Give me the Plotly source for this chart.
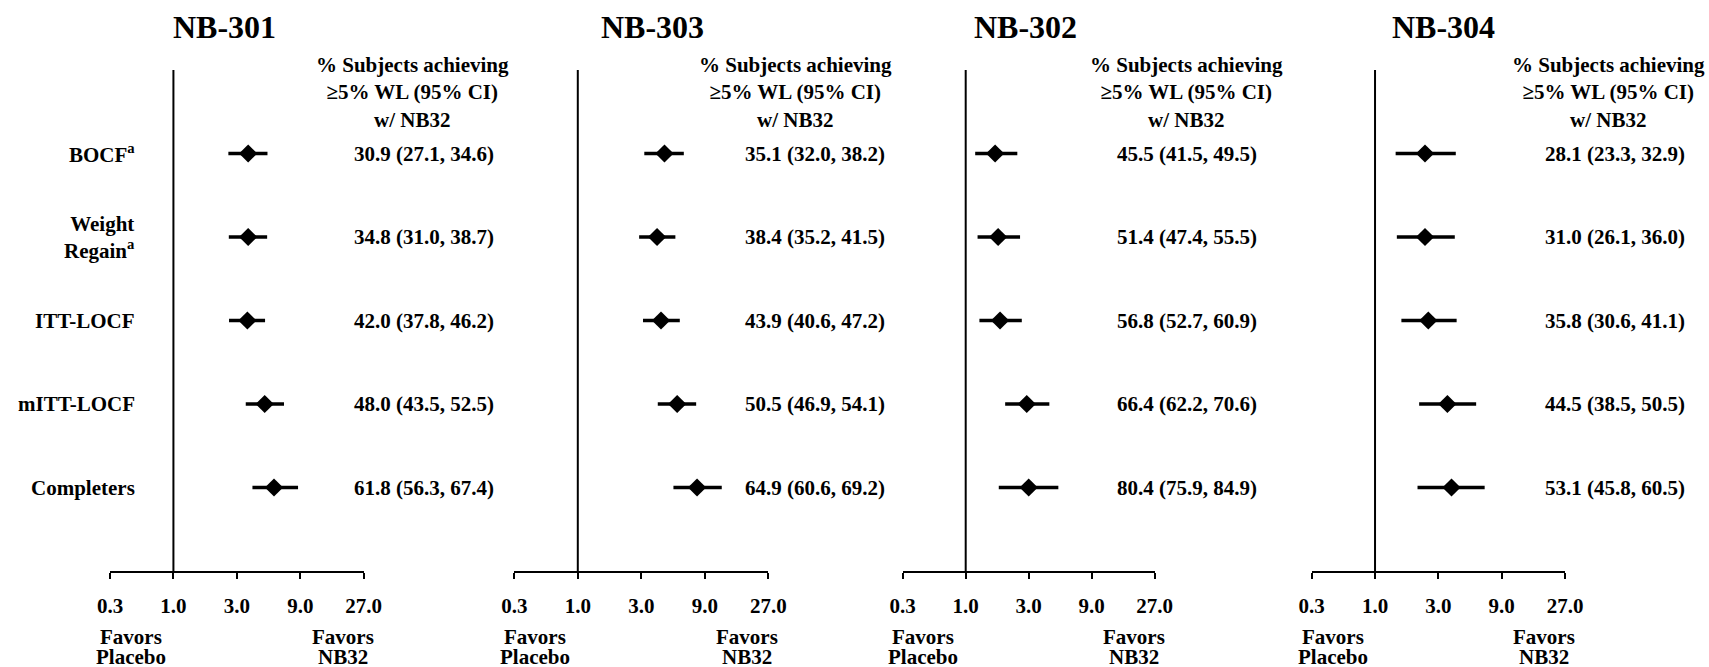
import numpy as np
import plotly.graph_objects as go

W, H = 1709, 667

# ---- data -------------------------------------------------------------
studies = ["NB-301", "NB-303", "NB-302", "NB-304"]
analyses = ["BOCF<sup>a</sup>", "Weight<br>Regain<sup>a</sup>", "ITT-LOCF",
            "mITT-LOCF", "Completers"]

# odds ratio (NB32 vs placebo) with 95% CI, one list per study
or_301 = [3.65, 3.65, 3.60, 4.86, 5.71]
lo_301 = [2.59, 2.61, 2.62, 3.50, 3.93]
hi_301 = [5.10, 5.07, 4.89, 6.79, 8.66]

or_303 = [4.48, 3.94, 4.22, 5.58, 7.87]
lo_303 = [3.16, 2.89, 3.09, 3.99, 5.23]
hi_303 = [6.26, 5.41, 5.84, 7.75, 12.07]

or_302 = [1.67, 1.76, 1.82, 2.90, 3.00]
lo_302 = [1.18, 1.23, 1.27, 1.99, 1.78]
hi_302 = [2.46, 2.58, 2.66, 4.30, 5.03]

or_304 = [2.38, 2.38, 2.52, 3.51, 3.77]
lo_304 = [1.43, 1.46, 1.58, 2.15, 2.09]
hi_304 = [4.06, 3.99, 4.12, 5.78, 6.70]

# % subjects achieving >=5% weight loss with NB32 (95% CI)
pct_301 = [30.9, 34.8, 42.0, 48.0, 61.8]
pctlo_301 = [27.1, 31.0, 37.8, 43.5, 56.3]
pcthi_301 = [34.6, 38.7, 46.2, 52.5, 67.4]

pct_303 = [35.1, 38.4, 43.9, 50.5, 64.9]
pctlo_303 = [32.0, 35.2, 40.6, 46.9, 60.6]
pcthi_303 = [38.2, 41.5, 47.2, 54.1, 69.2]

pct_302 = [45.5, 51.4, 56.8, 66.4, 80.4]
pctlo_302 = [41.5, 47.4, 52.7, 62.2, 75.9]
pcthi_302 = [49.5, 55.5, 60.9, 70.6, 84.9]

pct_304 = [28.1, 31.0, 35.8, 44.5, 53.1]
pctlo_304 = [23.3, 26.1, 30.6, 38.5, 45.8]
pcthi_304 = [32.9, 36.0, 41.1, 50.5, 60.5]

tick_vals = [1 / 3, 1, 3, 9, 27]
tick_text = ["0.3", "1.0", "3.0", "9.0", "27.0"]

# ---- layout geometry (pixels) -----------------------------------------
axis_px = [(110, 363.7), (514.3, 768.3), (902.7, 1154.7), (1311.7, 1565)]
title_cx = [225, 652, 1025, 1443]
header_cx = [412, 795, 1186, 1608]
value_x0 = [352, 742.7, 1115, 1542.7]
plot_top, plot_bottom = 70, 571

FONT = "Liberation Serif, Times New Roman, serif"
fs = 21

ors = [or_301, or_303, or_302, or_304]
los = [lo_301, lo_303, lo_302, lo_304]
his = [hi_301, hi_303, hi_302, hi_304]
pcts = [pct_301, pct_303, pct_302, pct_304]
pctlos = [pctlo_301, pctlo_303, pctlo_302, pctlo_304]
pcthis = [pcthi_301, pcthi_303, pcthi_302, pcthi_304]

rows = list(range(1, len(analyses) + 1))

fig = go.Figure()
annotations = []
shapes = []


def bold_font(size=fs):
    return dict(family=FONT, size=size, color="black", weight="bold")


for i, study in enumerate(studies):
    xa = "x" if i == 0 else f"x{i + 1}"
    o = np.array(ors[i])
    lo = np.array(los[i])
    hi = np.array(his[i])
    fig.add_trace(go.Scatter(
        x=o, y=rows, xaxis=xa, yaxis="y", mode="markers",
        marker=dict(symbol="diamond", size=14, color="black"),
        error_x=dict(type="data", symmetric=False, array=hi - o,
                     arrayminus=o - lo, color="black", thickness=3.5, width=0),
        showlegend=False, cliponaxis=False, hoverinfo="skip",
    ))

    # reference line at OR = 1
    shapes.append(dict(type="line", xref=xa, yref="y", x0=1, x1=1, y0=0, y1=6,
                       line=dict(color="black", width=2)))

    # study title
    annotations.append(dict(text=study, xref="paper", yref="paper",
                            x=title_cx[i] / W, y=1 - 27 / H, xanchor="center",
                            yanchor="middle", showarrow=False,
                            font=bold_font(32)))
    # column header
    annotations.append(dict(text="% Subjects achieving<br>≥5% WL (95% CI)<br>w/ NB32",
                            xref="paper", yref="paper", x=header_cx[i] / W,
                            y=1 - 92 / H, xanchor="center", yanchor="middle",
                            align="center", showarrow=False, font=bold_font()))
    # percentage values
    for r, p, pl, ph in zip(rows, pcts[i], pctlos[i], pcthis[i]):
        annotations.append(dict(text=f"{p:.1f} ({pl:.1f}, {ph:.1f})",
                                xref="paper", yref="y", x=value_x0[i] / W, y=r,
                                xanchor="left", yanchor="middle", showarrow=False,
                                font=bold_font()))
    # direction labels under the axis (two tightly spaced lines each)
    for xv, lines in [(3 ** (-0.67), ["Favors", "Placebo"]),
                      (3 ** 2.67, ["Favors", "NB32"])]:
        for ypx, txt in zip([637, 657], lines):
            annotations.append(dict(text=txt, xref=xa, yref="paper",
                                    x=np.log10(xv), y=1 - ypx / H,
                                    xanchor="center", yanchor="middle",
                                    showarrow=False, font=bold_font()))

# analysis row labels (left of first panel)
for r, lab in zip(rows, analyses):
    annotations.append(dict(text=lab, xref="paper", yref="y", x=137 / W, y=r,
                            xanchor="right", yanchor="middle", align="right",
                            showarrow=False, font=bold_font()))

layout = dict(
    width=W, height=H, margin=dict(l=0, r=0, t=0, b=0),
    paper_bgcolor="white", plot_bgcolor="white", template="none",
    font=bold_font(),
    yaxis=dict(domain=[1 - plot_bottom / H, 1 - plot_top / H], range=[6, 0],
               visible=False, fixedrange=True),
    annotations=annotations, shapes=shapes,
)
for i, (a, b) in enumerate(axis_px):
    key = "xaxis" if i == 0 else f"xaxis{i + 1}"
    layout[key] = dict(
        domain=[a / W, b / W], type="log",
        range=[np.log10(1 / 3), np.log10(27)],
        tickvals=tick_vals, ticktext=tick_text,
        showline=True, linecolor="black", linewidth=2.3,
        ticks="outside", ticklen=6, tickwidth=2, tickcolor="black",
        showgrid=False, zeroline=False, anchor="y", automargin=False,
        ticklabelstandoff=9,
        tickfont=bold_font(),
    )

fig.update_layout(**layout)
fig.write_html("out.html")
